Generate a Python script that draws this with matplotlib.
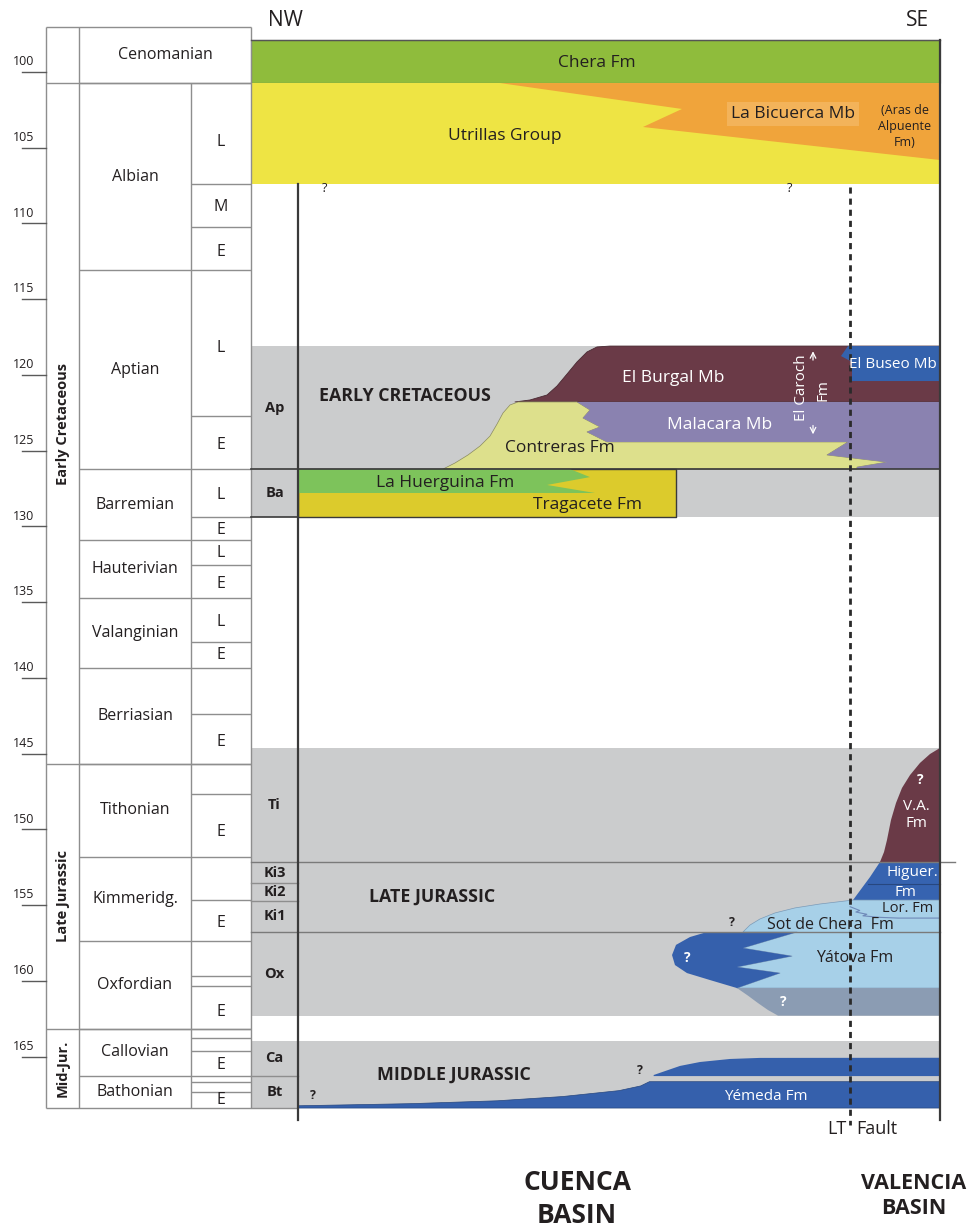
import matplotlib
matplotlib.use("Agg")
import matplotlib.pyplot as plt
from matplotlib.patches import Polygon, Rectangle

plt.rcParams['font.family'] = ['Open Sans', 'DejaVu Sans']

# ------------------------------------------------------------------
# Chronostratigraphic frame (ages in Ma)
# ------------------------------------------------------------------
AGE_TICKS = [100, 105, 110, 115, 120, 125, 130, 135, 140, 145, 150, 155, 160, 165]

ERA_NAMES = ["", "Early Cretaceous", "Late Jurassic", "Mid-Jur."]
ERA_TOP = [97.03, 100.73, 145.68, 163.17]
ERA_BASE = [100.73, 145.68, 163.17, 168.39]

STAGE_NAMES = ["Cenomanian", "Albian", "Aptian", "Barremian", "Hauterivian",
               "Valanginian", "Berriasian", "Tithonian", "Kimmeridg.",
               "Oxfordian", "Callovian", "Bathonian"]
STAGE_TOP = [97.03, 100.73, 113.07, 126.21, 130.89, 134.70, 139.35,
             145.68, 151.80, 157.34, 163.17, 166.26]
STAGE_BASE = [100.73, 113.07, 126.21, 130.89, 134.70, 139.35, 145.68,
              151.80, 157.34, 163.17, 166.26, 168.39]

SUBSTAGE_LINES = [107.39, 110.23, 122.71, 129.37, 132.54, 137.61, 142.38,
                  147.66, 154.66, 159.67, 160.31, 163.79, 164.61, 166.65, 167.31]
SUBSTAGE_LABELS = ["L", "M", "E", "L", "E", "L", "E", "L", "E", "L", "E",
                   "E", "E", "E", "E", "E", "E"]
SUBSTAGE_AGE = [104.62, 108.91, 111.88, 118.22, 124.62, 127.92, 130.23,
                131.75, 133.80, 136.31, 138.48, 144.23, 150.17, 156.17,
                162.05, 165.55, 167.86]

UNIT_CODES = ["Ap", "Ba", "Ti", "Ki3", "Ki2", "Ki1", "Ox", "Ca", "Bt"]
UNIT_TOP = [118.09, 126.21, 144.62, 152.15, 153.54, 154.72, 156.77, 163.95, 166.26]
UNIT_BASE = [126.21, 129.37, 152.15, 153.54, 154.72, 156.77, 162.29, 166.26, 168.39]

# Intervals represented in the NW-SE section (grey background)
INTERVAL_NAMES = ["EARLY CRETACEOUS", "LATE JURASSIC", "MIDDLE JURASSIC"]
INTERVAL_TOP = [118.09, 144.62, 163.95]
INTERVAL_BASE = [129.37, 162.29, 168.39]

# ------------------------------------------------------------------
# Lithostratigraphic units: lateral position (% of NW-SE transect), age (Ma)
# ------------------------------------------------------------------
CHERA_X = [-7.32, 100, 100, -7.32]
CHERA_AGE = [97.89, 97.89, 100.73, 100.73]

UTRILLAS_X = [-7.32, 100, 100, -7.32]
UTRILLAS_AGE = [100.73, 100.73, 107.39, 107.39]

BICUERCA_X = [31.46, 100, 100, 53.74, 59.81]
BICUERCA_AGE = [100.73, 100.73, 105.81, 103.63, 102.44]

BURGAL_X = [33.80, 36.14, 38.79, 40.34, 41.90, 43.46, 45.02, 46.57, 48.60, 100, 100]
BURGAL_AGE = [121.78, 121.65, 121.32, 120.73, 119.94, 119.14, 118.48, 118.15,
              118.09, 118.09, 121.78]

BUSEO_X = [85.67, 100, 100, 86.29, 86.29, 84.58]
BUSEO_AGE = [118.09, 118.09, 120.40, 120.40, 119.14, 118.75]

CONTRERAS_X = [22.59, 24.45, 26.48, 28.35, 29.91, 31.00, 31.93, 33.02, 34.27,
               43.46, 45.48, 44.39, 47.04, 45.02, 48.13, 85.67, 82.40, 91.74,
               87.07, 87.07]
CONTRERAS_AGE = [126.21, 125.81, 125.28, 124.69, 124.03, 123.24, 122.51, 121.98,
                 121.78, 121.78, 122.31, 122.84, 123.43, 123.76, 124.42, 124.42,
                 125.28, 125.75, 126.08, 126.21]

MALACARA_X = [43.46, 45.48, 44.39, 47.04, 45.02, 48.13, 85.67, 82.40, 91.74,
              87.07, 87.07, 100, 100]
MALACARA_AGE = [121.78, 122.31, 122.84, 123.43, 123.76, 124.42, 124.42, 125.28,
                125.75, 126.08, 126.21, 126.21, 121.78]

TRAGACETE_X = [0, 58.88, 58.88, 0]
TRAGACETE_AGE = [126.21, 126.21, 129.37, 129.37]

HUERGUINA_X = [0, 42.37, 45.48, 38.79, 46.26, 0]
HUERGUINA_AGE = [126.21, 126.21, 126.74, 127.26, 127.79, 127.79]

VA_X = [100, 98.44, 96.88, 95.33, 94.08, 93.15, 92.37, 91.74, 91.28, 90.65, 100]
VA_AGE = [144.62, 145.02, 145.61, 146.41, 147.26, 148.25, 149.37, 150.70,
          151.49, 152.15, 152.15]

HIGUER_X = [90.65, 100, 100, 86.45, 89.10]
HIGUER_AGE = [152.15, 152.15, 154.66, 154.66, 153.14]

YATOVA_X = [69.31, 70.40, 71.96, 74.30, 77.41, 81.31, 86.45, 100, 100, 68.38,
            75.08, 68.38, 76.95, 69.31, 77.73]
YATOVA_AGE = [156.77, 156.31, 155.91, 155.51, 155.18, 154.92, 154.66, 154.66,
              160.47, 160.47, 159.48, 159.08, 158.36, 157.83, 156.77]

YATOVA_MARGIN_X = [63.71, 77.73, 69.31, 76.95, 68.38, 75.08, 68.38, 64.17,
                   60.59, 58.72, 58.26, 58.88, 61.06]
YATOVA_MARGIN_AGE = [156.77, 156.77, 157.83, 158.36, 159.08, 159.48, 160.47,
                     159.94, 159.48, 158.95, 158.29, 157.62, 157.10]

OXF_BASE_X = [68.38, 100, 100, 74.77, 73.21, 71.65, 70.09]
OXF_BASE_AGE = [160.47, 160.47, 162.29, 162.29, 161.92, 161.46, 160.97]

YEMEDA_X = [0, 17.60, 31.07, 41.21, 50.0, 53.38, 54.74, 100, 100, 0]
YEMEDA_AGE = [168.24, 168.10, 167.91, 167.63, 167.24, 166.93, 166.65, 166.65,
              168.39, 168.39]

CALLOVIAN_X = [55.40, 57.17, 59.50, 62.62, 67.29, 71.96, 100, 100, 55.40]
CALLOVIAN_AGE = [166.21, 165.95, 165.61, 165.35, 165.15, 165.08, 165.07,
                 166.28, 166.28]

LOR_CONTACT_X = [86.0, 87.5, 86.9, 88.6, 88.0, 90.5, 93.5, 100]
LOR_CONTACT_AGE = [155.10, 155.35, 155.45, 155.60, 155.70, 155.80, 155.85, 155.85]

HIGUER_INNER_X = [88.79, 100]
HIGUER_INNER_AGE = [153.60, 153.60]

# ------------------------------------------------------------------
# Figure
# ------------------------------------------------------------------
fig = plt.figure(figsize=(9.71, 12.31), dpi=100)
ax = fig.add_axes([0, 0, 1, 1])
ax.set_xlim(-46.417, 104.829)
ax.set_ylim(176.506, 95.247)
ax.axis('off')

INK = '#231f20'
GRID = '#8e8e8e'
FRAME = '#3a3a3a'
GREY = '#cbcccd'

# table column edges (transect % units, left of the NW margin)
X_TICK0, X_ERA, X_STAGE, X_SUB, X_UNIT, X_NW, X_SE = -42.99, -39.25, -34.11, -16.67, -7.32, 0.0, 100.0
X_FAULT = 85.98
X_LINE_END = 102.34

# grey background of represented intervals
for top, base in zip(INTERVAL_TOP, INTERVAL_BASE):
    ax.add_patch(Rectangle((X_UNIT, top), X_SE - X_UNIT, base - top,
                           facecolor=GREY, edgecolor='none', zorder=1))


def unit(xs, ages, color, edge='none', lw=0.0, z=2):
    ax.add_patch(Polygon(list(zip(xs, ages)), closed=True, facecolor=color,
                         edgecolor=edge, linewidth=lw, zorder=z,
                         joinstyle='round'))


unit(CHERA_X, CHERA_AGE, '#8fbc3c', '#5a5a5a', 0.8)
unit(UTRILLAS_X, UTRILLAS_AGE, '#eee444')
unit(BICUERCA_X, BICUERCA_AGE, '#f0a43b')
unit(BURGAL_X, BURGAL_AGE, '#6a3a47', '#4a2a33', 0.6)
unit(BUSEO_X, BUSEO_AGE, '#3462ad')
unit(CONTRERAS_X, CONTRERAS_AGE, '#dde08c', '#8a8a60', 0.5)
unit(MALACARA_X, MALACARA_AGE, '#8a82b0')
unit(TRAGACETE_X, TRAGACETE_AGE, '#dccb2c', '#3a3a3a', 1.0)
unit(HUERGUINA_X, HUERGUINA_AGE, '#7dc35b')
unit(VA_X, VA_AGE, '#6a3a47')
unit(HIGUER_X, HIGUER_AGE, '#3663b0')
unit(YATOVA_X, YATOVA_AGE, '#a7d0e8', '#7a9ab8', 0.5)
unit(YATOVA_MARGIN_X, YATOVA_MARGIN_AGE, '#3560ac')
unit(OXF_BASE_X, OXF_BASE_AGE, '#8b9cb3')
unit(YEMEDA_X, YEMEDA_AGE, '#3560ac', '#27477f', 0.5)
unit(CALLOVIAN_X, CALLOVIAN_AGE, '#3560ac')

ax.plot(LOR_CONTACT_X, LOR_CONTACT_AGE, color='#6f89b8', lw=0.8, zorder=3)
ax.plot(HIGUER_INNER_X, HIGUER_INNER_AGE, color='#27477f', lw=0.8, zorder=3)

# ---------------- table ----------------
tk = dict(color=GRID, lw=1.0, zorder=3, solid_capstyle='butt')
ax.plot([X_ERA, X_UNIT], [ERA_TOP[0]] * 2, **tk)
for x in (X_ERA, X_STAGE, X_UNIT):
    ax.plot([x, x], [ERA_TOP[0], ERA_BASE[-1]], **tk)
ax.plot([X_SUB, X_SUB], [STAGE_BASE[0], ERA_BASE[-1]], **tk)
for a in ERA_TOP[1:]:
    ax.plot([X_ERA, X_UNIT], [a, a], **tk)
ax.plot([X_ERA, X_NW], [ERA_BASE[-1]] * 2, **tk)
for a in STAGE_TOP[1:]:
    ax.plot([X_STAGE, X_UNIT], [a, a], **tk)
for a in SUBSTAGE_LINES:
    ax.plot([X_SUB, X_UNIT], [a, a], **tk)

# age axis ticks
for a in AGE_TICKS:
    ax.plot([X_TICK0, X_ERA], [a, a], color='#5a5a5a', lw=1.0, zorder=3)
    ax.text(-42.76, a - 0.25, f"{a}", ha='center', va='bottom',
            fontsize=9, color=INK)

for name, top, base in zip(ERA_NAMES, ERA_TOP, ERA_BASE):
    if name:
        ax.text((X_ERA + X_STAGE) / 2, (top + base) / 2, name, rotation=90,
                ha='center', va='center', fontsize=10.5, fontweight='bold',
                color=INK)

for i, (name, top, base) in enumerate(zip(STAGE_NAMES, STAGE_TOP, STAGE_BASE)):
    xc = (X_STAGE + X_UNIT) / 2 if i == 0 else (X_STAGE + X_SUB) / 2
    ax.text(xc, (top + base) / 2, name, ha='center', va='center',
            fontsize=11.5, color=INK)

for lab_, a in zip(SUBSTAGE_LABELS, SUBSTAGE_AGE):
    ax.text((X_SUB + X_UNIT) / 2, a, lab_, ha='center', va='center',
            fontsize=11.5, color=INK)

# stratigraphic unit column
for code, top, base in zip(UNIT_CODES, UNIT_TOP, UNIT_BASE):
    ax.text((X_UNIT + X_NW) / 2, (top + base) / 2, code, ha='center',
            va='center', fontsize=10.5, fontweight='bold', color=INK)
for a in (153.54, 154.72, 166.26):
    ax.plot([X_UNIT, X_NW], [a, a], color=GRID, lw=1.0, zorder=3)

# section horizontal boundaries
ax.plot([X_UNIT, X_SE], [126.21] * 2, color=FRAME, lw=1.2, zorder=3)
ax.plot([X_UNIT, X_NW], [129.37] * 2, color=FRAME, lw=1.2, zorder=3)
ax.plot([X_UNIT, X_LINE_END], [152.15] * 2, color='#7a7a7a', lw=1.0, zorder=3)
ax.plot([X_UNIT, X_SE], [156.77] * 2, color='#7a7a7a', lw=1.0, zorder=3)
ax.plot([X_UNIT, X_SE], [97.89] * 2, color='#555555', lw=1.0, zorder=3)

# section margins and fault
ax.plot([X_NW, X_NW], [107.39, 169.18], color=FRAME, lw=1.6, zorder=4)
ax.plot([X_SE, X_SE], [97.89, 169.18], color=FRAME, lw=1.6, zorder=4)
ax.plot([X_FAULT, X_FAULT], [107.6, 169.5], color='#2a2a2a', lw=2.0,
        dashes=(2.2, 1.8), zorder=4)

# ---------------- labels ----------------
def lab(x, a, s, size=12.5, color=INK, **kw):
    ax.text(x, a, s, ha=kw.pop('ha', 'center'), va=kw.pop('va', 'center'),
            fontsize=size, color=color, zorder=6, **kw)


WHITE = 'white'
lab(-2.02, 96.57, "NW", 15)
lab(96.57, 96.57, "SE", 15)
lab(46.57, 99.41, "Chera Fm")
lab(32.24, 104.22, "Utrillas Group")
lab(77.10, 102.77, "La Bicuerca Mb", 12.5,
    bbox=dict(facecolor='#f3b35a', edgecolor='none', pad=3))
lab(94.55, 103.63, "(Aras de\nAlpuente\nFm)", 9, linespacing=1.3)
lab(4.21, 107.66, "?", 9)
lab(76.64, 107.66, "?", 9)

lab(16.67, 121.39, INTERVAL_NAMES[0], 12.8, fontweight='bold')
lab(58.41, 120.20, "El Burgal Mb", 12.5, WHITE)
lab(92.68, 119.34, "El Buseo Mb", 11, WHITE)
lab(78.50, 120.86, "El Caroch", 11, WHITE, rotation=90)
lab(81.78, 121.00, "Fm", 11, WHITE, rotation=90)
ax.annotate("", xy=(80.22, 118.25), xytext=(80.22, 119.20),
            arrowprops=dict(arrowstyle='->', color=WHITE, lw=0.9), zorder=6)
ax.annotate("", xy=(80.22, 124.10), xytext=(80.22, 123.15),
            arrowprops=dict(arrowstyle='->', color=WHITE, lw=0.9), zorder=6)
lab(65.73, 123.30, "Malacara Mb", 12.5, WHITE)
lab(40.81, 124.82, "Contreras Fm")
lab(22.90, 127.13, "La Huerguina Fm")
lab(45.02, 128.58, "Tragacete Fm")

lab(20.87, 154.46, INTERVAL_NAMES[1], 12.8, fontweight='bold')
lab(96.88, 146.74, "?", 10, WHITE, fontweight='bold')
lab(96.30, 149.05, "V.A.\nFm", 11, WHITE, linespacing=1.25)
lab(95.64, 152.87, "Higuer.", 11, WHITE)
lab(94.55, 154.19, "Fm", 11, WHITE)
lab(95.02, 155.20, "Lor. Fm", 10.5)
lab(82.87, 156.31, "Sot de Chera  Fm", 11.5)
lab(67.60, 156.11, "?", 9, fontweight='bold')
lab(60.59, 158.49, "?", 10, WHITE, fontweight='bold')
lab(86.76, 158.49, "Yátova Fm", 11.5)
lab(75.55, 161.39, "?", 10, WHITE, fontweight='bold')

lab(24.30, 166.21, INTERVAL_NAMES[2], 12.8, fontweight='bold')
lab(2.34, 167.53, "?", 9, fontweight='bold')
lab(53.27, 165.88, "?", 9, fontweight='bold')
lab(72.90, 167.66, "Yémeda Fm", 11, WHITE)

lab(85.36, 169.75, "LT", 13, ha='right')
lab(86.92, 169.75, "Fault", 13, ha='left')
lab(43.46, 174.39, "CUENCA\nBASIN", 19, fontweight='bold', linespacing=1.3)
lab(95.96, 174.20, "VALENCIA\nBASIN", 15.5, fontweight='bold', linespacing=1.3)

fig.savefig("out.png", dpi=100)
